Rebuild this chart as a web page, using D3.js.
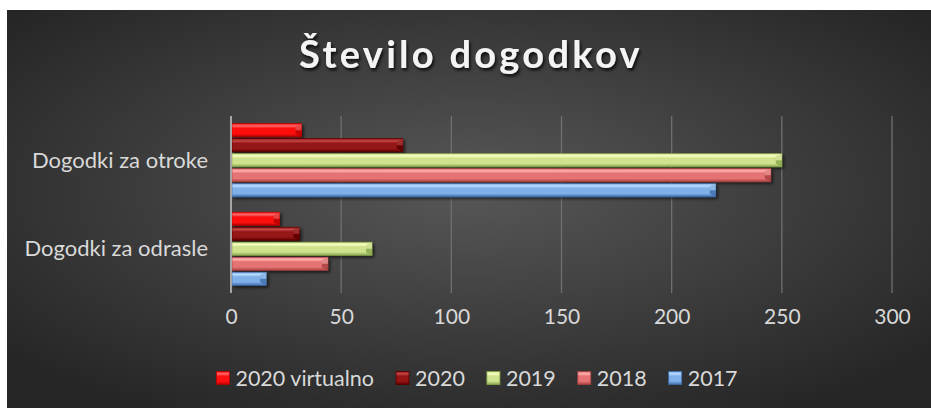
<!DOCTYPE html>
<html>
<head>
<meta charset="utf-8">
<script src="https://cdn.jsdelivr.net/npm/d3@7"></script>
<style>
  body { margin: 0; background: #fff; }
  svg text { font-family: Lato, "Open Sans", sans-serif; }
</style>
</head>
<body>
<div id="chart"></div>
<script>
// data, top to bottom as drawn
var categories = ['Dogodki za otroke', 'Dogodki za odrasle'];
var seriesNames = ['2020 virtualno', '2020', '2019', '2018', '2017'];
var valuesOtroke = [32, 78, 250, 245, 220];
var valuesOdrasle = [22, 31, 64, 44, 16];
var xTicks = [0, 50, 100, 150, 200, 250, 300];

// light / base / dark for each series
var seriesColors = [
    ['#ff6b6b', '#ff1010', '#b80000'],
    ['#c44848', '#951414', '#5a0000'],
    ['#f6ffc0', '#cfe28e', '#86a64a'],
    ['#ffb0b0', '#e57373', '#a84040'],
    ['#b9dcff', '#7fb0e8', '#3f6fad']
];

var seriesValues = [valuesOtroke, valuesOdrasle];

var W = 931, H = 408;
var margin = {top: 116, right: 39, bottom: 115, left: 231};
var width = W - margin.left - margin.right,
    height = H - margin.top - margin.bottom;

var svg = d3.select('#chart').append('svg')
    .attr('width', W)
    .attr('height', H);

var defs = svg.append('defs');

var bg = defs.append('radialGradient')
    .attr('id', 'bg')
    .attr('cx', '50%').attr('cy', '45%').attr('r', '65%');
bg.append('stop').attr('offset', '0%').attr('stop-color', '#575757');
bg.append('stop').attr('offset', '100%').attr('stop-color', '#262626');

seriesColors.forEach(function(c, i) {
    var g = defs.append('linearGradient')
        .attr('id', 'bar' + i)
        .attr('x1', 0).attr('y1', 0).attr('x2', 0).attr('y2', 1);
    g.append('stop').attr('offset', '0%').attr('stop-color', c[1]);
    g.append('stop').attr('offset', '18%').attr('stop-color', c[0]);
    g.append('stop').attr('offset', '35%').attr('stop-color', c[1]);
    g.append('stop').attr('offset', '75%').attr('stop-color', c[1]);
    g.append('stop').attr('offset', '100%').attr('stop-color', c[2]);
});

var shadow = defs.append('filter').attr('id', 'shadow')
    .attr('x', '-10%').attr('y', '-50%').attr('width', '130%').attr('height', '250%');
shadow.append('feDropShadow')
    .attr('dx', 2).attr('dy', 2).attr('stdDeviation', 1.5)
    .attr('flood-color', '#000').attr('flood-opacity', 0.6);

var titleShadow = defs.append('filter').attr('id', 'tshadow')
    .attr('x', '-10%').attr('y', '-30%').attr('width', '130%').attr('height', '170%');
titleShadow.append('feDropShadow')
    .attr('dx', 1.5).attr('dy', 2.5).attr('stdDeviation', 1.5)
    .attr('flood-color', '#000').attr('flood-opacity', 0.8);

svg.append('rect')
    .attr('x', 7).attr('y', 10)
    .attr('width', W - 7).attr('height', H - 10)
    .attr('fill', 'url(#bg)');

svg.append('text')
    .attr('x', 471)
    .attr('y', 68)
    .attr('text-anchor', 'middle')
    .attr('fill', '#f4f4f4')
    .style('font-size', '38px')
    .style('font-weight', 'bold')
    .style('letter-spacing', '3.3px')
    .attr('filter', 'url(#tshadow)')
    .text('Število dogodkov');

var g = svg.append('g')
    .attr('transform', 'translate(' + margin.left + ',' + margin.top + ')');

var x = d3.scaleLinear().domain([0, 300]).range([0, width]);

var y0 = d3.scaleBand()
    .domain(categories)
    .range([0, height])
    .paddingInner(0.153)
    .paddingOuter(0.076);

var y1 = d3.scaleBand()
    .domain(seriesNames)
    .range([0, y0.bandwidth()])
    .paddingInner(0.12)
    .paddingOuter(0.06);

// grid
g.append('g')
    .selectAll('line')
    .data(xTicks.slice(1))
    .enter().append('line')
    .attr('x1', function(d) { return x(d); })
    .attr('x2', function(d) { return x(d); })
    .attr('y1', 0)
    .attr('y2', height)
    .attr('stroke', '#707070')
    .attr('stroke-width', 1.3);

// x tick labels
var xAxis = d3.axisBottom(x).tickValues(xTicks).tickSize(0).tickPadding(16);
var xg = g.append('g')
    .attr('transform', 'translate(0,' + height + ')')
    .call(xAxis);
xg.select('.domain').remove();
xg.selectAll('text')
    .attr('fill', '#d9d9d9')
    .style('font-size', '21px');

// category labels
var yAxis = d3.axisLeft(y0).tickSize(0).tickPadding(23);
var yg = g.append('g').call(yAxis);
yg.select('.domain').remove();
yg.selectAll('text')
    .attr('fill', '#d9d9d9')
    .attr('dy', '0.35em')
    .style('font-size', '22px');

// bars
var rows = [];
categories.forEach(function(cat, ci) {
    seriesNames.forEach(function(s, si) {
        rows.push({cat: cat, series: s, si: si, value: seriesValues[ci][si]});
    });
});

var bars = g.append('g').selectAll('g.bar')
    .data(rows)
    .enter().append('g')
    .attr('class', 'bar')
    .attr('filter', 'url(#shadow)')
    .attr('transform', function(d) {
        return 'translate(0,' + (y0(d.cat) + y1(d.series)) + ')';
    });

bars.append('rect')
    .attr('x', x(0) + 1)
    .attr('y', 0)
    .attr('width', function(d) { return x(d.value) - x(0) - 1; })
    .attr('height', y1.bandwidth())
    .attr('fill', function(d) { return 'url(#bar' + d.si + ')'; })
    .attr('stroke', function(d) { return seriesColors[d.si][2]; })
    .attr('stroke-width', 0.6);

// bevel on the bar end
var bh = y1.bandwidth();
bars.append('path')
    .attr('d', function(d) {
        var e = x(d.value), b = Math.min(6, (e - x(0)) / 3);
        return 'M' + e + ',0L' + e + ',' + bh + 'L' + (e - b) + ',' + (bh - 3) + 'L' + (e - b) + ',3Z';
    })
    .attr('fill', function(d) { return seriesColors[d.si][2]; })
    .attr('opacity', 0.8);
bars.append('path')
    .attr('d', function(d) {
        var e = x(d.value), b = Math.min(6, (e - x(0)) / 3);
        return 'M' + e + ',0L' + (e - b) + ',3L' + (e - b) + ',' + (bh / 2) + 'L' + e + ',' + (bh / 2) + 'Z';
    })
    .attr('fill', function(d) { return seriesColors[d.si][0]; })
    .attr('opacity', 0.6);

// vertical axis line
g.append('line')
    .attr('x1', x(0)).attr('x2', x(0))
    .attr('y1', 0).attr('y2', height)
    .attr('stroke', '#a6a6a6')
    .attr('stroke-width', 2);

// legend
var legend = svg.append('g').attr('transform', 'translate(0,378)');
var lx = 0;
var items = legend.selectAll('g')
    .data(seriesNames)
    .enter().append('g');
items.append('rect')
    .attr('y', -6.5)
    .attr('width', 13).attr('height', 13)
    .attr('fill', function(d, i) { return 'url(#bar' + i + ')'; })
    .attr('stroke', function(d, i) { return seriesColors[i][2]; })
    .attr('stroke-width', 0.8);
items.append('text')
    .attr('x', 19)
    .attr('dy', '0.36em')
    .attr('fill', '#d9d9d9')
    .style('font-size', '21.5px')
    .text(function(d) { return d; });
items.each(function() {
    var it = d3.select(this);
    it.attr('transform', 'translate(' + lx + ',0)');
    lx += 19 + it.select('text').node().getComputedTextLength() + 22;
});
lx -= 22;
legend.attr('transform', 'translate(' + (477 - lx / 2) + ',378)');
</script>
</body>
</html>
